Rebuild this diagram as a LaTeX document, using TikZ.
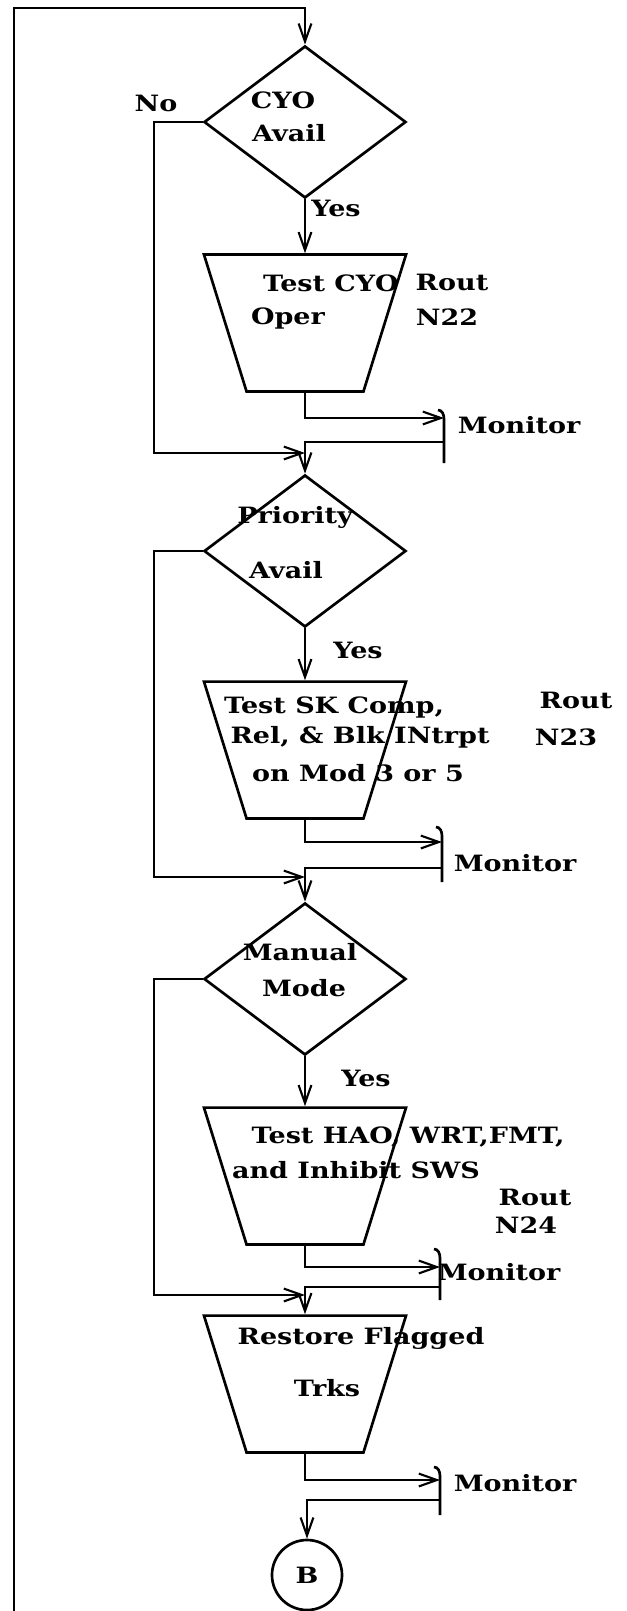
\documentclass[tikz,border=0pt]{standalone}
\usepackage{fontspec}
\setmainfont{DejaVu Serif}[FakeStretch=1.2]
\usetikzlibrary{arrows.meta,shapes.geometric}

\begin{document}
\begin{tikzpicture}[
  x=0.025cm, y=-0.025cm,
  line width=1.9pt,
  >={Straight Barb[length=4.5mm,width=3.2mm,line width=1.5pt]},
  txt/.style={font=\bfseries\fontsize{16}{19}\selectfont, inner sep=0pt},
  decision/.style={diamond, draw, aspect=1.34, minimum width=5.05cm, minimum height=3.8cm, inner sep=1pt},
  process/.style={trapezium, draw, trapezium left angle=70, trapezium right angle=70,
    shape border rotate=180, trapezium stretches=true,
    minimum width=5.05cm, minimum height=3.42cm, inner sep=1pt},
  connector/.style={circle, draw, minimum size=1.75cm, inner sep=0pt}
]
\useasboundingbox (0,0) rectangle (626,1611);

% boxes
\node[decision] (d1) at (305,122) {};
\node[process] (p1) at (305,323) {};
\node[decision] (d2) at (305,551) {};
\node[process] (p2) at (305,750) {};
\node[decision] (d3) at (305,979) {};
\node[process] (p3) at (305,1176) {};
\node[process] (p4) at (305,1384) {};
\node[connector] (b) at (307,1575) {};

% texts
\node[txt] (c1) at (283,100) {CYO};
\node[txt] (c2) at (289,133) {Avail};
\node[txt] (no1) at (156,103) {No};
\node[txt] (y1) at (336,208) {Yes};
\node[txt] (t1) at (331,283) {Test CYO};
\node[txt] (t2) at (288,318) {Oper};
\node[txt] (r1) at (452,282) {Rout};
\node[txt] (n1) at (447,317) {N22};
\node[txt] (mon1) at (519,425) {Monitor};

\node[txt] (c3) at (295,517) {Priority};
\node[txt] (c4) at (286,570) {Avail};
\node[txt] (y2) at (358,650) {Yes};
\node[txt] (t3) at (334,707) {Test SK Comp,};
\node[txt] (t4) at (360,737) {Rel, \& Blk INtrpt};
\node[txt] (t5) at (358,773) {on Mod 3 or 5};
\node[txt] (r2) at (576,700) {Rout};
\node[txt] (n2) at (566,737) {N23};
\node[txt] (mon2) at (515,863) {Monitor};

\node[txt] (c5) at (300,952) {Manual};
\node[txt] (c6) at (304,988) {Mode};
\node[txt] (y3) at (366,1078) {Yes};
\node[txt] (t6) at (408,1137) {Test HAO, WRT,FMT,};
\node[txt] (t7) at (356,1170) {and Inhibit SWS};
\node[txt] (r3) at (535,1197) {Rout};
\node[txt] (n3) at (526,1225) {N24};
\node[txt] (mon3) at (499,1272) {Monitor};

\node[txt] (t8) at (361,1338) {Restore Flagged};
\node[txt] (t9) at (327,1388) {Trks};
\node[txt] (mon4) at (515,1483) {Monitor};
\node[txt] at (b) {B};

% monitor brackets
\coordinate (ma1) at (444,418); \coordinate (mr1) at (444,442);
\coordinate (ma2) at (442,842); \coordinate (mr2) at (442,868);
\coordinate (ma3) at (440,1267); \coordinate (mr3) at (440,1287);
\coordinate (ma4) at (440,1480); \coordinate (mr4) at (440,1500);
\foreach \x/\ya/\yb in {444/413/463, 442/830/882, 440/1252/1300, 440/1470/1515}
  \draw (\x-6,\ya-3) to[out=0,in=90] (\x,\ya+6) -- (\x,\yb);

% no branches
\coordinate (nb1) at (154,453); \coordinate (j1) at (305,453);
\coordinate (nb2) at (154,877); \coordinate (j2) at (305,877);
\coordinate (nb3) at (154,1295); \coordinate (j3) at (305,1295);

% loop back
\coordinate (lb) at (14,1611);
\coordinate (lt) at (305,8);
\draw[->] (lb) |- (lt) -- (d1.north);

\draw[->] (d1.south) -- (p1.north);
\draw[->] (p1.south) |- (ma1);
\draw[->] (mr1) -| (d2.north);
\draw[->] (d1.west) -| (nb1) -- (j1);

\draw[->] (d2.south) -- (p2.north);
\draw[->] (p2.south) |- (ma2);
\draw[->] (mr2) -| (d3.north);
\draw[->] (d2.west) -| (nb2) -- (j2);

\draw[->] (d3.south) -- (p3.north);
\draw[->] (p3.south) |- (ma3);
\draw[->] (mr3) -| (p4.north);
\draw[->] (d3.west) -| (nb3) -- (j3);

\draw[->] (p4.south) |- (ma4);
\draw[->] (mr4) -| (b.north);

\end{tikzpicture}
\end{document}
